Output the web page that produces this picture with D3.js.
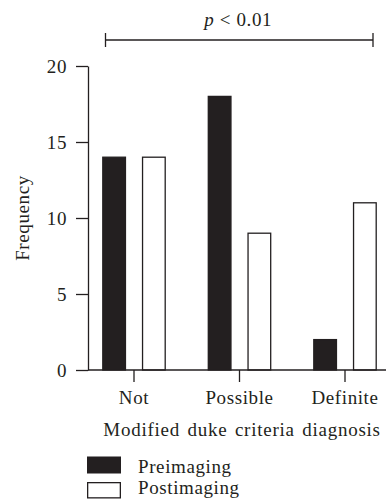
<!DOCTYPE html>
<html>
<head>
<meta charset="utf-8">
<script src="https://cdn.jsdelivr.net/npm/d3@7"></script>
<style>
body { margin: 0; background: #fff; }
text { font-family: "Liberation Serif", "Times New Roman", serif; fill: #231f20; }
</style>
</head>
<body>
<script>
var categories = ["Not", "Possible", "Definite"]
var series = ["Preimaging", "Postimaging"]
var preValues = [14, 18, 2]
var postValues = [14, 9, 11]
var yTicks = [0, 5, 10, 15, 20]
var pLabel = "< 0.01"

var width = 386, height = 500
var ink = "#231f20"
var fontSize = 19, spacing = 0.6

var svg = d3.select("body")
	.append("svg")
	.attr("width", width)
	.attr("height", height)

var y = d3.scaleLinear()
	.domain([0, 20])
	.range([370, 66])

var x = d3.scaleBand()
	.domain(categories)
	.range([81.25, 397.75])

var x1 = d3.scaleBand()
	.domain(series)
	.range([-31.2, 31.2])
	.paddingInner(0.43)

var data = categories.map(function(c, i) {
	return {cat: c, values: [
		{key: "Preimaging", v: preValues[i]},
		{key: "Postimaging", v: postValues[i]}
	]}
})

function styleText(sel) {
	sel.style("font-family", "Liberation Serif")
		.style("font-size", fontSize + "px")
		.style("letter-spacing", spacing + "px")
		.attr("fill", ink)
}

// bars
var groups = svg.selectAll("g.cat")
	.data(data)
	.enter()
	.append("g")
	.attr("class", "cat")
	.attr("transform", function(d) {
		return "translate(" + (x(d.cat) + x.bandwidth() / 2) + ",0)"
	})

groups.selectAll("rect")
	.data(function(d) { return d.values })
	.enter()
	.append("rect")
	.attr("x", function(d) { return x1(d.key) })
	.attr("width", x1.bandwidth())
	.attr("y", function(d) { return y(d.v) })
	.attr("height", function(d) { return y(0) - y(d.v) })
	.attr("fill", function(d) { return d.key == "Preimaging" ? ink : "#fff" })
	.attr("stroke", ink)
	.attr("stroke-width", 1.3)

// y axis
var yAxis = svg.append("g")
	.attr("transform", "translate(88,0)")
	.call(d3.axisLeft(y).tickValues(yTicks).tickSize(12).tickSizeOuter(0).tickPadding(9))

yAxis.selectAll("path, line").attr("stroke", ink).attr("stroke-width", 1.3)
yAxis.selectAll("text").call(styleText)

// x axis
var xAxis = svg.append("g")
	.attr("transform", "translate(0," + y(0) + ")")
	.call(d3.axisBottom(x).tickSize(12).tickSizeOuter(0).tickPadding(8.5))

xAxis.select(".domain").remove()
xAxis.append("line")
	.attr("x1", 88)
	.attr("x2", width)
	.attr("stroke", ink)
	.attr("stroke-width", 1.3)
xAxis.selectAll("line").attr("stroke", ink).attr("stroke-width", 1.3)
xAxis.selectAll("text").call(styleText)

// axis titles
svg.append("text")
	.attr("x", 242)
	.attr("y", 435.5)
	.attr("text-anchor", "middle")
	.call(styleText)
	.style("letter-spacing", "0.75px")
	.style("word-spacing", "2px")
	.text("Modified duke criteria diagnosis")

svg.append("text")
	.attr("transform", "translate(29," + ((y(0) + y(20)) / 2) + ") rotate(-90)")
	.attr("text-anchor", "middle")
	.call(styleText)
	.text("Frequency")

// significance bracket
var bx0 = x(categories[0]) + x.bandwidth() / 2 + x1("Preimaging") + 2.7
var bx1 = x(categories[2]) + x.bandwidth() / 2 + x1("Postimaging") + x1.bandwidth() - 3.2
var by = 40
var bracket = svg.append("g").attr("stroke", ink).attr("stroke-width", 1.3)
bracket.append("line").attr("x1", bx0).attr("x2", bx1).attr("y1", by).attr("y2", by)
bracket.append("line").attr("x1", bx0).attr("x2", bx0).attr("y1", by - 7).attr("y2", by + 7)
bracket.append("line").attr("x1", bx1).attr("x2", bx1).attr("y1", by - 7).attr("y2", by + 7)

var pt = svg.append("text")
	.attr("x", (bx0 + bx1) / 2 - 1)
	.attr("y", 26)
	.attr("text-anchor", "middle")
	.call(styleText)
pt.append("tspan").style("font-style", "italic").text("p")
pt.append("tspan").text(" " + pLabel)

// legend
var legend = svg.selectAll("g.legend")
	.data(series)
	.enter()
	.append("g")
	.attr("class", "legend")
	.attr("transform", function(d, i) { return "translate(87," + (456.5 + i * 25.5) + ")" })

legend.append("rect")
	.attr("x", function(d, i) { return i ? 0.65 : 0 })
	.attr("y", function(d, i) { return i ? 0.65 : 0 })
	.attr("width", function(d, i) { return i ? 32.7 : 34 })
	.attr("height", function(d, i) { return i ? 15.2 : 17 })
	.attr("fill", function(d, i) { return i ? "#fff" : ink })
	.attr("stroke", function(d, i) { return i ? ink : "none" })
	.attr("stroke-width", 1.3)

legend.append("text")
	.attr("x", 51)
	.attr("y", function(d, i) { return i ? 12 : 16 })
	.call(styleText)
	.text(function(d) { return d })
</script>
</body>
</html>
